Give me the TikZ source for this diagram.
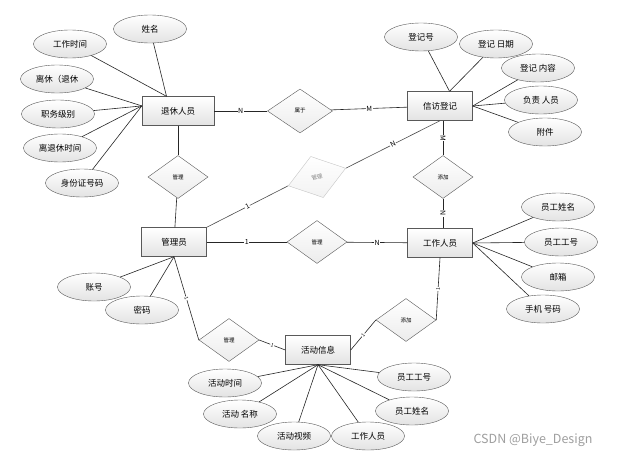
\documentclass[tikz,border=0pt]{standalone}
\usepackage{fontspec}
\setmainfont{Noto Sans CJK SC}
\usetikzlibrary{shapes.geometric}

\begin{document}
\begin{tikzpicture}[
    x=1pt, y=-1pt,
    entity/.style={draw=gray!70!black, rectangle, minimum width=65pt, minimum height=29pt, inner sep=1pt,
      top color=white, bottom color=gray!22, font=\fontsize{8.5}{10}\selectfont},
    attr/.style={draw=gray!70!black, ellipse, minimum width=73pt, minimum height=28pt, inner sep=0pt,
      top color=white, bottom color=gray!22, font=\fontsize{8.5}{10}\selectfont},
    rel/.style={draw=gray!70!black, diamond, minimum width=60pt, minimum height=43pt, inner sep=0pt,
      top color=white, bottom color=gray!15, font=\fontsize{5.5}{6}\selectfont},
    card/.style={fill=white, inner sep=0.6pt, font=\fontsize{7}{8}\selectfont},
    link/.style={draw=black!85, line width=0.6pt}
  ]
    \useasboundingbox[fill=white] (0,0) rectangle (623,460);

    % entities
    \node[entity, minimum width=72pt] (ret) at (178,111) {退休人员};
    \node[entity] (visit) at (440,106) {信访登记};
    \node[entity] (admin) at (174,242) {管理员};
    \node[entity] (staff) at (440,243) {工作人员};
    \node[entity] (act) at (318,350) {活动信息};

    % relationships
    \node[rel, minimum width=65pt, minimum height=44pt] (belong) at (300,111) {属于};
    \node[rel] (mgrA) at (178,177) {管理};
    \node[rel, rotate=17, draw=gray!45, text=gray, bottom color=gray!10] (mgrB) at (317,177) {管理};
    \node[rel] (mgrC) at (317,242) {管理};
    \node[rel] (mgrD) at (229,340) {管理};
    \node[rel] (addA) at (443,177) {添加};
    \node[rel] (addB) at (406,320) {添加};

    % attributes of 退休人员
    \node[attr] (rName) at (150,29) {姓名};
    \node[attr] (rWork) at (70,44) {工作时间};
    \node[attr] (rType) at (57,79) {离休（退休};
    \node[attr] (rRank) at (58,114) {职务级别};
    \node[attr] (rTime) at (60,148) {离退休时间};
    \node[attr] (rId) at (82,183) {身份证号码};

    % attributes of 信访登记
    \node[attr] (vNo) at (421,37) {登记号};
    \node[attr] (vDate) at (496,44) {登记 日期};
    \node[attr] (vText) at (538,68) {登记 内容};
    \node[attr] (vResp) at (541,100) {负责 人员};
    \node[attr] (vFile) at (545,132) {附件};

    % attributes of 工作人员
    \node[attr] (sName) at (558,207) {员工姓名};
    \node[attr] (sNo) at (561,242) {员工工号};
    \node[attr] (sMail) at (558,277) {邮箱};
    \node[attr] (sPhone) at (543,309) {手机 号码};

    % attributes of 管理员
    \node[attr] (aAcc) at (94,287) {账号};
    \node[attr] (aPwd) at (142,310) {密码};

    % attributes of 活动信息
    \node[attr] (tTime) at (225,383) {活动时间};
    \node[attr] (tName) at (240,414) {活动 名称};
    \node[attr] (tVideo) at (294,436) {活动视频};
    \node[attr] (tStaff) at (368,436) {工作人员};
    \node[attr] (tEName) at (412,411) {员工姓名};
    \node[attr] (tENo) at (414,377) {员工工号};

    % attribute links
    \foreach \a in {rName,rWork} \draw[link] (\a) -- (ret.128);
    \foreach \a in {rType,rRank,rTime,rId} \draw[link] (\a) -- (ret.172);
    \foreach \a in {vNo,vDate} \draw[link] (\a) -- (visit.57);
    \foreach \a in {vText,vResp,vFile} \draw[link] (\a) -- (visit.east);
    \foreach \a in {sName,sNo,sMail,sPhone} \draw[link] (\a) -- (staff.east);
    \foreach \a in {aAcc,aPwd} \draw[link] (\a) -- (admin.south);
    \foreach \a in {tTime,tName,tVideo,tStaff,tEName,tENo} \draw[link] (\a) -- (act.south);

    % relationship links
    \draw[link] (ret) -- node[card] {N} (belong);
    \draw[link] (belong) -- node[card] {M} (visit);
    \draw[link] (ret) -- (mgrA);
    \draw[link] (mgrA) -- (admin);
    \draw[link, draw=black!70] (admin.north east) -- node[card, sloped] {1} (mgrB.west);
    \draw[link, draw=black!70] (mgrB.east) -- node[card, sloped] {N} (visit.south);
    \draw[link] (visit.south -| addA) -- node[card, sloped] {M} (addA);
    \draw[link] (addA) -- node[card, sloped] {N} (staff.north -| addA);
    \draw[link] (admin) -- node[card] {1} (mgrC);
    \draw[link] (mgrC) -- node[card] {N} (staff);
    \draw[link] (admin.south) -- node[card, sloped, font=\fontsize{5}{6}\selectfont] {1} (mgrD.west);
    \draw[link] (mgrD.east) -- node[card, sloped, font=\fontsize{5}{6}\selectfont] {1} (act.west);
    \draw[link] (act.east) -- node[card, sloped, font=\fontsize{5}{6}\selectfont] {1} (addB.west);
    \draw[link] (addB.east) -- node[card, sloped, font=\fontsize{5}{6}\selectfont] {1} (staff.south);

    \node[text=gray!75, font=\fontsize{12.5}{14}\selectfont] (mark) at (533,440) {CSDN @Biye\_Design};
  \end{tikzpicture}
\end{document}
